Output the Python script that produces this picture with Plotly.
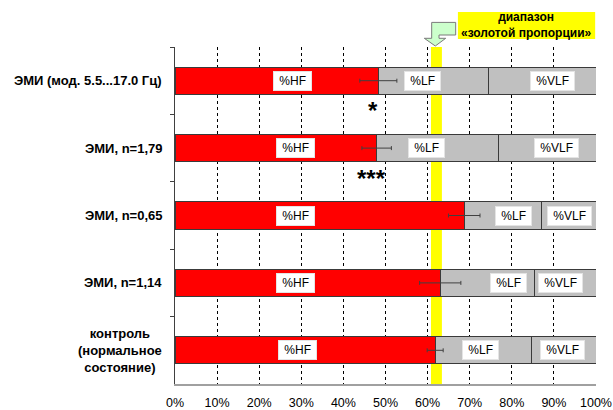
import plotly.graph_objects as go

# Groups, top to bottom
categories = [
    "ЭМИ (мод. 5.5...17.0 Гц)",
    "ЭМИ, n=1,79",
    "ЭМИ, n=0,65",
    "ЭМИ, n=1,14",
    "контроль<br>(нормальное<br>состояние)",
]

# Spectral shares of heart-rate variability, %
hf_share = [48.3, 47.9, 68.7, 63.0, 61.8]
lf_share = [26.1, 29.0, 18.3, 22.3, 22.9]
vlf_share = [25.6, 23.1, 13.0, 14.7, 15.3]
hf_error = [4.4, 3.5, 3.75, 4.9, 1.9]

# Significance marks under the first two groups
significance = ["*", "***", "", "", ""]

# Golden-ratio range, %
golden_range = [60.8, 63.4]

tick_values = [0, 10, 20, 30, 40, 50, 60, 70, 80, 90, 100]
tick_labels = [f"{v}%" for v in tick_values]

segment_names = ["%HF", "%LF", "%VLF"]

# Where the segment captions sit along the bar (x, %)
hf_label_x = [27.8, 28.7, 28.6, 28.7, 29.0]
lf_label_x = [58.9, 59.7, 80.5, 79.1, 72.6]
vlf_label_x = [89.7, 90.6, 93.8, 91.6, 92.0]

FONT = "Arial, 'Liberation Sans', sans-serif"
OUTLINE = "#3a3a3a"

fig = go.Figure()

fig.add_trace(go.Bar(
    y=categories, x=hf_share, orientation="h", name="%HF",
    marker=dict(color="#FF0000", line=dict(color=OUTLINE, width=1)),
))
fig.add_trace(go.Bar(
    y=categories, x=lf_share, orientation="h", name="%LF",
    marker=dict(color="#C0C0C0", line=dict(color=OUTLINE, width=1)),
))
fig.add_trace(go.Bar(
    y=categories, x=vlf_share, orientation="h", name="%VLF",
    marker=dict(color="#C0C0C0", line=dict(color=OUTLINE, width=1)),
))

# Error bars at the end of the HF segment, drawn above all bars
fig.add_trace(go.Scatter(
    y=categories, x=hf_share, mode="markers",
    marker=dict(size=1, color="rgba(0,0,0,0)"),
    error_x=dict(type="data", array=hf_error, symmetric=True,
                 color="#404040", thickness=1, width=2),
    hoverinfo="skip",
))

annotations = []

# Segment captions in white boxes
for xs, name in zip([hf_label_x, lf_label_x, vlf_label_x], segment_names):
    for cat, x in zip(categories, xs):
        annotations.append(dict(
            x=x, y=cat, xref="x", yref="y",
            text="\u00a0" + name + "\u00a0", showarrow=False,
            xanchor="center", yanchor="middle",
            font=dict(family=FONT, size=12, color="black"),
            bgcolor="white", bordercolor="#e4e4e4", borderwidth=1, borderpad=2,
        ))

# Group names to the left of the axis
for cat in categories:
    annotations.append(dict(
        x=-0.026, y=cat, xref="paper", yref="y",
        text="<b>" + cat + "</b>", showarrow=False,
        xanchor="right", yanchor="middle", align="center",
        font=dict(family=FONT, size=13, color="black"),
    ))

# Significance marks just below the HF segment end
for cat, hf, mark in zip(categories, hf_share, significance):
    if mark:
        annotations.append(dict(
            x=hf - 1.2, y=cat, xref="x", yref="y",
            text="<b>" + mark + "</b>", showarrow=False,
            xanchor="center", yanchor="middle",
            yshift=-30, font=dict(family=FONT, size=24, color="black"),
        ))

# Caption of the golden-ratio range
annotations.append(dict(
    x=0.835, y=1.0638, xref="paper", yref="paper",
    text="<b>диапазон<br>«золотой пропорции»</b>", showarrow=False,
    xanchor="center", yanchor="middle",
    align="center", font=dict(family=FONT, size=12, color="black"),
))

shapes = [
    # golden-ratio band
    dict(type="rect", xref="x", yref="paper",
         x0=golden_range[0], x1=golden_range[1], y0=0, y1=1,
         fillcolor="#FFFF00", line=dict(width=0), layer="below"),
    # yellow caption box
    dict(type="rect", xref="paper", yref="paper",
         x0=0.672, x1=0.998, y0=1.0237, y1=1.104,
         fillcolor="#FFFF00", line=dict(width=0)),
    # bent arrow pointing down at the band
    dict(type="path", xref="x", yref="paper",
         path=("M 66.67,1.0730 L 60.97,1.0730 L 60.97,1.0258 L 59.22,1.0258 "
               "L 61.83,1.0030 L 64.30,1.0258 L 62.71,1.0258 L 62.71,1.0356 "
               "L 66.67,1.0356 Z"),
         fillcolor="#CCFFCC", line=dict(color="#7a7a7a", width=1)),
]

fig.update_layout(
    barmode="stack",
    bargap=0.595,
    width=613, height=410,
    margin=dict(l=175, r=17, t=47, b=26, autoexpand=False),
    paper_bgcolor="white", plot_bgcolor="white",
    showlegend=False,
    font=dict(family=FONT, color="black"),
    annotations=annotations,
    shapes=shapes,
)

fig.update_xaxes(
    range=[0, 100],
    tickmode="array", tickvals=tick_values, ticktext=tick_labels,
    tickfont=dict(family=FONT, size=12.5, color="black"),
    ticks="", ticklabelstandoff=6, automargin=False,
    showgrid=True, gridcolor="black", gridwidth=1, griddash="3px,3px",
    zeroline=False,
    showline=True, linecolor="#A0A0A0", linewidth=2,
)

fig.update_yaxes(
    type="category", categoryorder="array", categoryarray=categories,
    range=[len(categories) - 0.5, -0.5], automargin=False,
    showticklabels=False,
    ticks="outside", tickson="boundaries", ticklen=4,
    tickcolor="#404040", tickwidth=1,
    showgrid=False, zeroline=False,
    showline=True, linecolor="#404040", linewidth=1,
)

fig.write_html("out.html")
